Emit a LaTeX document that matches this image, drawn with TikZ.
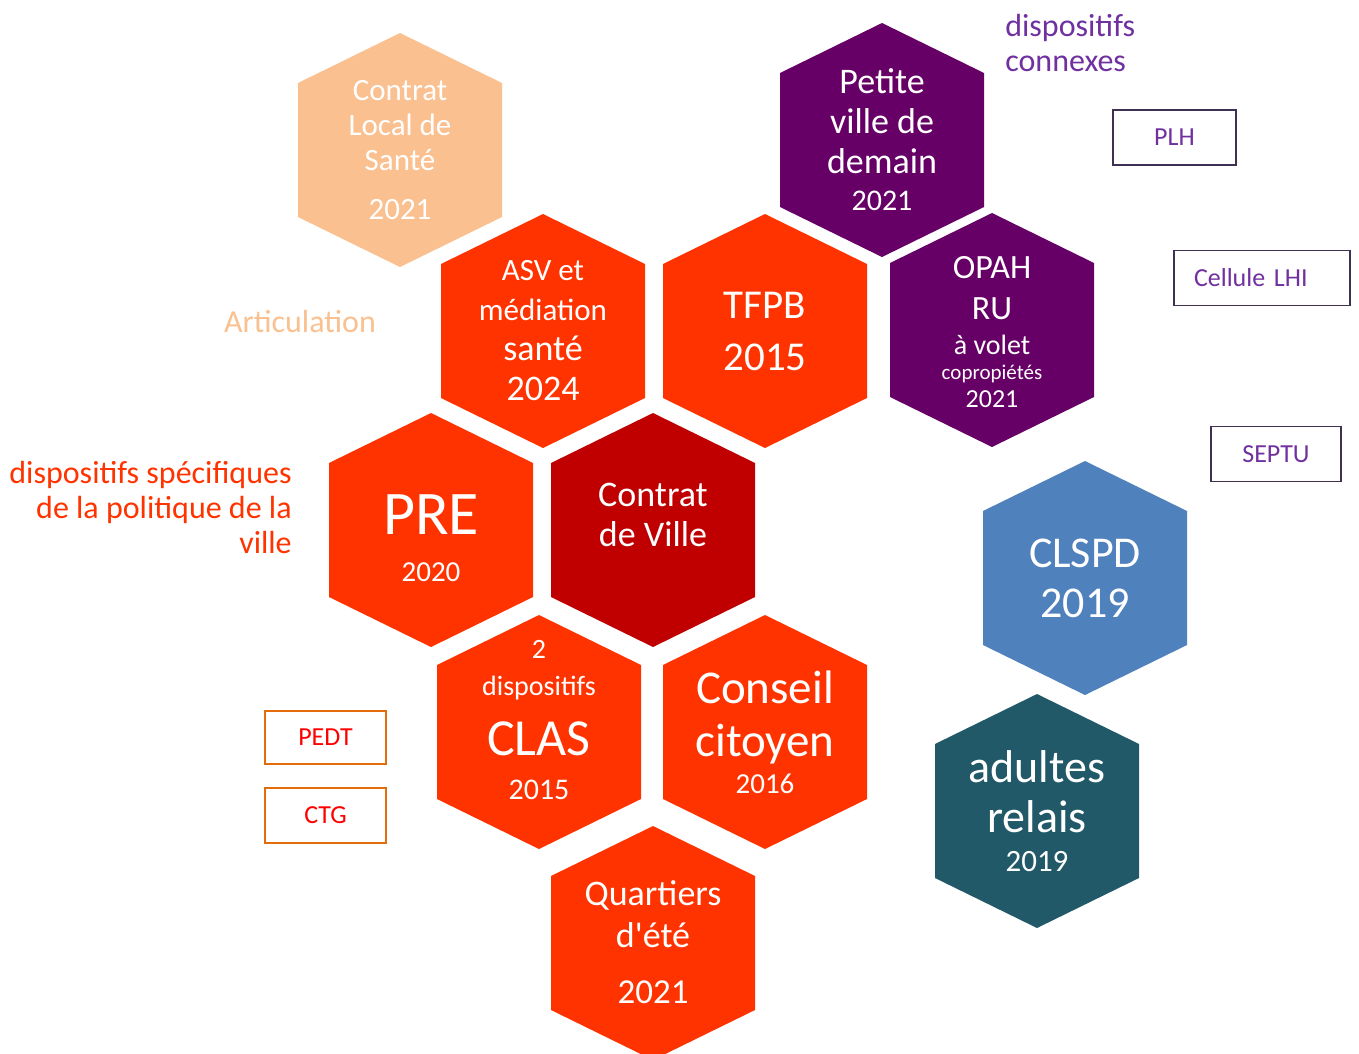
\documentclass[tikz,border=0pt]{standalone}
\usepackage{fontspec}
\setmainfont{Carlito}[Ligatures=TeXOff]
\usetikzlibrary{positioning}

\definecolor{cityred}{RGB}{255,51,0}
\definecolor{contractred}{RGB}{192,0,0}
\definecolor{plum}{RGB}{102,0,102}
\definecolor{peach}{RGB}{250,192,144}
\definecolor{steelblue}{RGB}{79,129,189}
\definecolor{deepteal}{RGB}{33,89,104}
\definecolor{violettext}{RGB}{112,48,160}
\definecolor{violetline}{RGB}{63,49,81}
\definecolor{orangeline}{RGB}{228,108,10}

% font size + fixed line distance
\newcommand{\fsz}[2]{\fontsize{#1}{#2}\selectfont\lineskiplimit=-100pt}
% hexagon: [node options]{name}{centre}{colour}{text}
\newcommand{\hexcell}[5][]{%
  \fill[#4] (#3) ++(0,-117) -- ++(102,50) -- ++(0,134) -- ++(-102,50)
    -- ++(-102,-50) -- ++(0,-134) -- cycle;
  \node[hexlabel, #1] (#2) at (#3) {#5};}

\begin{document}
\begin{tikzpicture}[x = 1pt, y = -1pt, % pixel units, y pointing down
                semithick % line style
            ]

            \tikzstyle{hexlabel}=[text = white, align = center, inner sep = 0pt]
            \tikzstyle{tag}=[draw = violetline, line width = 1.8pt, text = violettext,
            font = \fsz{26}{31}, minimum height = 55pt, inner sep = 0pt]
            \tikzstyle{redtag}=[tag, draw = orangeline, text = red]
            \tikzstyle{caption}=[font = \fsz{32}{35}, inner sep = 0pt]

            \useasboundingbox (0,0) rectangle (1359,1053);

            \hexcell[font = \fsz{31}{35}]{cls}{400,150}{peach}
            {Contrat\\Local de\\Santé\\[14pt]2021}
            \hexcell[font = \fsz{31}{40}]{asv}{543,331}{cityred}
            {ASV et\\médiation\\{\fsz{36}{40}santé}\\{\fsz{36}{40}2024}}
            \hexcell[font = \fsz{41}{52}]{tfpb}{765,331}{cityred}{TFPB\\2015}
            \hexcell[font = \fsz{36}{40}]{pvd}{882,140}{plum}
            {Petite\\ville de\\demain\\[-3pt]{\fsz{30}{36}2021}}
            \hexcell[font = \fsz{34}{20}, yshift = -2pt]{opah}{992,330}{plum}
            {OPAH\\[21pt]RU\\[15pt]{\fsz{28}{30}à volet}\\[5pt]{\fsz{21}{24}copropiétés}\\[8pt]{\fsz{26}{30}2021}}
            \hexcell[font = \fsz{62}{45}, yshift = -8pt]{pre}{431,530}{cityred}
            {PRE\\[2pt]{\fsz{29}{35}2020}}
            \hexcell[font = \fsz{36}{40}, yshift = 15pt]{cdv}{653,530}{contractred}
            {Contrat\\de Ville}
            \hexcell[font = \fsz{44}{50}]{clspd}{1085,578}{steelblue}{CLSPD\\2019}
            \hexcell[font = \fsz{28}{40}, yshift = 12pt]{clas}{539,732}{cityred}
            {2\\[-3pt]dispositifs\\[20pt]{\fsz{52}{60}CLAS}\\[4pt]{\fsz{30}{36}2015}}
            \hexcell[font = \fsz{47}{53}]{conseil}{765,732}{cityred}
            {Conseil\\citoyen\\[-16pt]{\fsz{29}{35}2016}}
            \hexcell[font = \fsz{46}{50}]{adultes}{1037,811}{deepteal}
            {adultes\\relais\\[-11pt]{\fsz{31}{35}2019}}
            \hexcell[font = \fsz{36}{42}, yshift = 1pt]{quartiers}{653,943}{cityred}
            {Quartiers\\d'été\\[14pt]{\fsz{35}{40}2021}}

            \node[caption, text = violettext, align = left, anchor = west] (connexes)
            at (1005,43) {dispositifs\\connexes};
            \node[caption, text = peach] (articulation) at (300,321) {Articulation};
            \node[caption, text = cityred, align = right, anchor = east] (specifiques)
            at (292,507) {dispositifs spécifiques\\de la politique de la\\ville};

            \node[tag, minimum width = 123pt] (plh) at (1174.5,137.5) {PLH};
            \node[tag, text width = 136pt, align = left, inner xsep = 20pt] (lhi)
            at (1262,278) {Cellule LHI};
            \node[tag, minimum width = 130pt] (septu) at (1276,454) {SEPTU};
            \node[redtag, minimum width = 121pt, minimum height = 53pt] (pedt)
            at (325.5,737.5) {PEDT};
            \node[redtag, minimum width = 121pt, below = 22pt of pedt] (ctg) {CTG};
        \end{tikzpicture}
\end{document}
